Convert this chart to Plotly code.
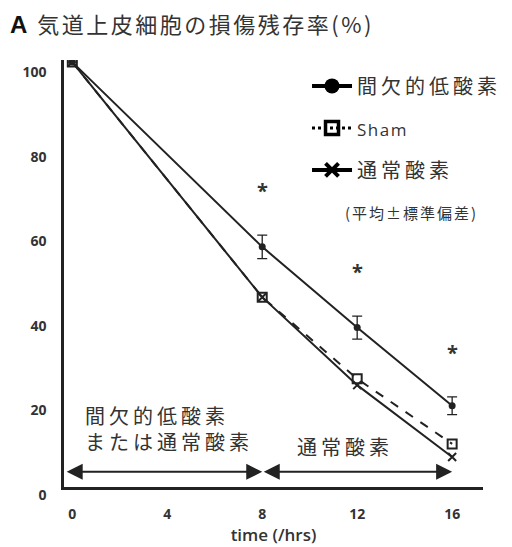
import plotly.graph_objects as go

time = [0, 8, 12, 16]
intermittent = [100, 56.3, 37.2, 18.7]
intermittent_sd = [0, 2.8, 2.7, 2.1]
sham = [100, 44.4, 25.1, 9.7]
normoxia = [100, 44.4, 23.6, 6.6]
sig = ["", "*", "*", "*"]
names = ["間欠的低酸素", "Sham", "通常酸素"]
x_ticks = [0, 4, 8, 12, 16]
y_ticks = [0, 20, 40, 60, 80, 100]

CJK = "Noto Sans CJK JP"
INK = "#222222"

# the page body adds an 8px margin, so the figure is sized 8px smaller
W, H = 504, 539


def spaced(text, px):
    return f"<span style='letter-spacing:{px}px'>{text}</span>"


fig = go.Figure()

# data traces
fig.add_trace(go.Scatter(
    x=time, y=normoxia, mode="lines+markers", showlegend=False,
    line=dict(color=INK, width=2),
    marker=dict(symbol="x-thin", size=8, line=dict(color=INK, width=2))))
fig.add_trace(go.Scatter(
    x=time, y=sham, mode="lines+markers", showlegend=False,
    line=dict(color=INK, width=2, dash="dash"),
    marker=dict(symbol="square-open", size=9, color=INK, line=dict(width=2))))
fig.add_trace(go.Scatter(
    x=time, y=intermittent, mode="lines+markers", showlegend=False,
    line=dict(color=INK, width=2),
    marker=dict(symbol="circle", size=7, color=INK),
    error_y=dict(type="data", array=intermittent_sd, color=INK, thickness=1.3, width=5)))

# legend-only traces
fig.add_trace(go.Scatter(
    x=[None], y=[None], mode="lines+markers", name=spaced(names[0], 4), legendgroup="a",
    line=dict(color="black", width=4),
    marker=dict(symbol="circle", size=15, color="black")))
fig.add_trace(go.Scatter(
    x=[None], y=[None], mode="lines+markers",
    name="<span style='font-family:Open Sans;font-size:17px;letter-spacing:1.5px'>" + names[1] + "</span>",
    legendgroup="b",
    line=dict(color="black", width=3, dash="dot"),
    marker=dict(symbol="square-open", size=13, color="black", line=dict(width=3.5))))
fig.add_trace(go.Scatter(
    x=[None], y=[None], mode="lines+markers", name=spaced(names[2], 4), legendgroup="c",
    line=dict(color="black", width=4),
    marker=dict(symbol="x-thin", size=13, line=dict(color="black", width=4))))

annotations = []
# significance asterisks
for t, m, s, g in zip(time, intermittent, intermittent_sd, sig):
    if g:
        annotations.append(dict(x=t, y=m + s + 10.5, text=g, showarrow=False,
                                font=dict(size=20, color="#333", family="Open Sans", weight="bold")))

# phase arrows
annotations.append(dict(x=8, y=3.1, ax=-0.3, ay=3.1, xref="x", yref="y", axref="x", ayref="y",
                        text="", showarrow=True, arrowside="end+start", arrowhead=2,
                        arrowsize=1.6, arrowwidth=2, arrowcolor=INK))
annotations.append(dict(x=16, y=3.1, ax=8, ay=3.1, xref="x", yref="y", axref="x", ayref="y",
                        text="", showarrow=True, arrowside="end+start", arrowhead=2,
                        arrowsize=1.6, arrowwidth=2, arrowcolor=INK))

annotations += [
    dict(x=0.46, y=13.3, text=spaced("間欠的低酸素", 4) + "<br>" + spaced("または通常酸素", 4),
         xanchor="left", align="left", showarrow=False,
         font=dict(size=20, color="#333", family=CJK)),
    dict(x=11.5, y=9.0, text=spaced("通常酸素", 4), showarrow=False,
         font=dict(size=20, color="#333", family=CJK)),
    dict(x=14.3, y=64.5, text=spaced("(平均±標準偏差)", 2), showarrow=False,
         font=dict(size=15, color="#333", family=CJK)),
]

fig.update_layout(
    width=W, height=H,
    margin=dict(l=56, r=29, t=52, b=60, autoexpand=False),
    paper_bgcolor="white", plot_bgcolor="white",
    annotations=annotations,
    title=dict(
        text="<span style='font-family:Liberation Sans;font-weight:bold;font-size:24px;color:#111'>A</span>"
             "  " + spaced("気道上皮細胞の損傷残存率(%)", 2.5),
        x=2 / W, xanchor="left", xref="container",
        y=1 - 17 / H, yanchor="middle", yref="container",
        font=dict(size=22, color="#333", family=CJK)),
    showlegend=True,
    legend=dict(x=0.58, y=0.985, xanchor="left", yanchor="top",
                font=dict(size=20, color="#333", family=CJK),
                tracegroupgap=13, bgcolor="rgba(0,0,0,0)", itemwidth=40),
    xaxis=dict(range=[-0.35, 17.3], tickvals=x_ticks, ticktext=[str(v) for v in x_ticks],
               automargin=False,
               showgrid=False, zeroline=False, showline=True, linecolor=INK, linewidth=2.5,
               ticks="", ticklabelstandoff=12,
               tickfont=dict(size=14, color="#333", family="Open Sans", weight="bold"),
               title=dict(text="time (/hrs)", standoff=8,
                          font=dict(size=17, color="#333", family="Open Sans", weight=600))),
    yaxis=dict(range=[-0.5, 100.5], tickvals=y_ticks, ticktext=[str(v) for v in y_ticks],
               automargin=False,
               showgrid=False, zeroline=False, showline=True, linecolor=INK, linewidth=2.5,
               ticks="", ticklabelstandoff=12, ticklabelshift=10,
               tickfont=dict(size=14, color="#333", family="Open Sans", weight="bold")),
)

fig.write_html("out.html")
